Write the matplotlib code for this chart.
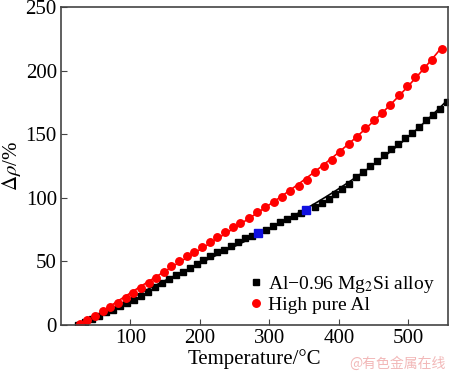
import matplotlib
matplotlib.use('Agg')
import matplotlib.pyplot as plt
import numpy as np

# Al-0.96Mg2Si alloy
alloy_t = [25, 35, 45, 55, 65, 75, 85, 95, 105, 115, 125, 135, 145, 155, 165, 175, 185, 195,
           205, 215, 225, 235, 245, 255, 265, 275, 295, 305, 315, 325, 335, 345, 365, 375,
           385, 395, 405, 415, 425, 435, 445, 455, 465, 475, 485, 495, 505, 515, 525, 535,
           545, 555]
alloy_v = [0, 2, 5, 7, 10, 12, 15, 17, 20, 23, 26, 30, 33, 36, 39, 42, 45, 48,
           51, 54, 57, 59, 62, 65, 68, 70, 75, 78, 81, 83, 86, 88, 93, 96,
           99, 103, 107, 111, 116, 120, 125, 129, 134, 138, 142, 147, 151, 156, 161, 165,
           170, 175]
# blue marked points on the alloy curve
mark_t = [283, 352]
mark_v = [72, 90]

# high pure Al
pure_t = [28, 38, 49, 60, 71, 82, 93, 104, 115, 126, 137, 148, 159, 170, 181, 192, 203,
          214, 225, 236, 247, 258, 270, 282, 294, 306, 318, 330, 342, 354, 366, 378, 390,
          402, 414, 426, 438, 450, 462, 474, 486, 498, 510, 522, 534, 548]
pure_v = [1, 4, 7, 11, 14, 17, 21, 25, 29, 33, 37, 42, 46, 50, 54, 57, 61,
          65, 69, 73, 77, 80, 84, 89, 93, 97, 101, 105, 109, 114, 120, 125, 130,
          136, 142, 148, 155, 161, 167, 173, 181, 188, 195, 202, 208, 217]

plt.rcParams['font.family'] = 'Liberation Serif'
plt.rcParams['mathtext.fontset'] = 'stix'

fig = plt.figure(figsize=(4.5, 3.76), dpi=100)
ax = fig.add_axes([0.1356, 0.1356, 0.86, 0.846])

# fitted curves
fit_a = np.poly1d(np.polyfit(alloy_t + mark_t, alloy_v + mark_v, 3))
fit_p = np.poly1d(np.polyfit(pure_t, pure_v, 3))
ta = np.linspace(min(alloy_t), max(alloy_t), 200)
tp = np.linspace(min(pure_t), max(pure_t), 200)
ax.plot(ta, fit_a(ta), color='black', lw=1.2)
ax.plot(tp, fit_p(tp), color='red', lw=1.2)

ax.plot(alloy_t, alloy_v, 's', color='black', ms=4.6, label='Al\u22120.96 Mg$_2$Si alloy')
ax.plot(pure_t, pure_v, 'o', color='red', ms=5.4, label='High pure Al')
ax.plot(mark_t, mark_v, 's', color='#1010e0', ms=5.2)

ax.set_xlim(0, 557)
ax.set_ylim(0, 250)
ax.set_xticks([100, 200, 300, 400, 500])
ax.set_yticks([0, 50, 100, 150, 200, 250])
ax.tick_params(direction='in', length=4, labelsize=15, color='#444444', pad=3)
for s in ax.spines.values():
    s.set_color('#444444')
    s.set_linewidth(1.2)

ax.set_xlabel('Temperature/°C', fontsize=15, labelpad=1)
ax.set_ylabel(r'$\Delta\rho$/%', fontsize=15, labelpad=2)

ax.legend(loc='upper left', frameon=False, fontsize=14, handletextpad=0.1,
          handlelength=1.1, labelspacing=0.05, borderaxespad=0, borderpad=0,
          bbox_to_anchor=(0.475, 0.16))

fig.text(0.99, 0.015, '@有色金属在线', color='#f2b8b8', fontsize=10, ha='right',
         va='bottom', family=['Noto Sans CJK SC', 'DejaVu Sans'])

fig.savefig('out.png', dpi=100)
